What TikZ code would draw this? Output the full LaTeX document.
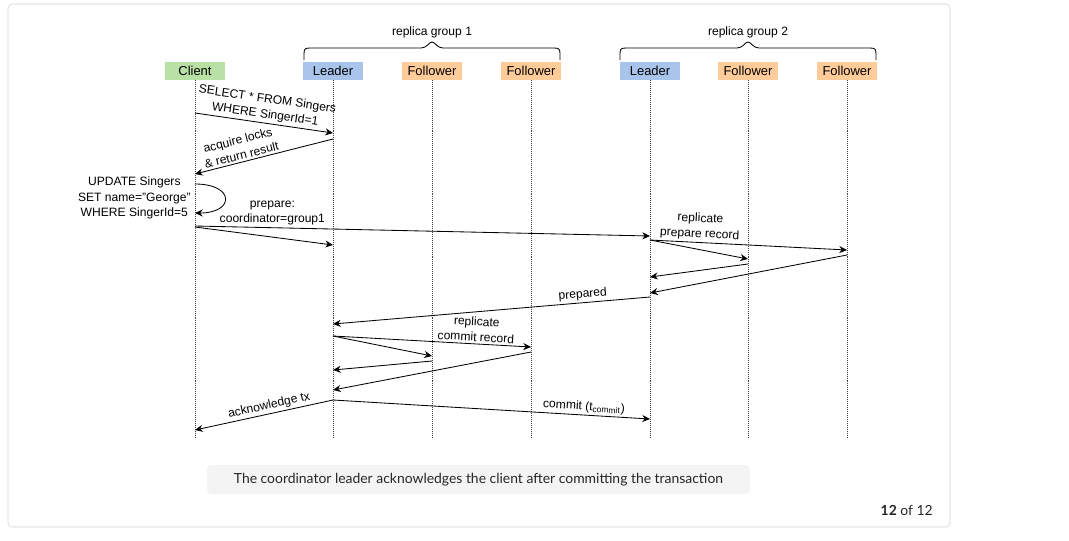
\documentclass[tikz,border=0pt]{standalone}
\usepackage{fontspec}
\setmainfont{Liberation Sans}
\newfontfamily\capfont{Lato}
\usetikzlibrary{arrows.meta}
\definecolor{cgreen}{HTML}{B9E0A5}
\definecolor{cblue}{HTML}{A9C4EB}
\definecolor{corange}{HTML}{FFCC99}
\begin{document}
\begin{tikzpicture}[x=0.025cm,y=-0.025cm,
  hdr/.style={minimum width=1.48cm,minimum height=0.45cm,inner sep=0pt,font=\fontsize{9.2}{10}\selectfont},
  lbl/.style={font=\fontsize{8.6}{11}\selectfont,align=center,inner sep=1.5pt},
  msg/.style={line width=0.6pt,-{Stealth[length=5.5pt,width=5pt]}},
  life/.style={line width=0.5pt,dash pattern=on 0.6pt off 0.8pt,black!75}]
\useasboundingbox (0,0) rectangle (1069,540);
\draw[gray!35,rounded corners=3pt] (8,4) rectangle (950,527);

\node[hdr,fill=cgreen] (C) at (195,71) {Client};
\node[hdr,fill=cblue] (L1) at (333,71) {Leader};
\node[hdr,fill=corange] (F11) at (432,71) {Follower};
\node[hdr,fill=corange] (F12) at (531,71) {Follower};
\node[hdr,fill=cblue] (L2) at (650,71) {Leader};
\node[hdr,fill=corange] (F21) at (748,71) {Follower};
\node[hdr,fill=corange] (F22) at (847,71) {Follower};
\foreach \n in {C,L1,F11,F12,L2,F21,F22}
  \draw[life] (\n.south) -- (\n |- 0,437);

\node[lbl] (G1) at (432,32) {replica group 1};
\node[lbl] (G2) at (748,32) {replica group 2};
\foreach \a/\m/\b in {304/432/560,620/748/876}
  \draw[line width=0.6pt] (\a,60) -- (\a,54) .. controls (\a,49) and (\a+1,48) .. (\a+6,48) -- (\m-11,48) .. controls (\m-5,48) and (\m-3,42) .. (\m,42) .. controls (\m+3,42) and (\m+5,48) .. (\m+11,48) -- (\b-6,48) .. controls (\b-1,48) and (\b,49) .. (\b,54) -- (\b,60);

\draw[msg] (C |- 0,113) -- node[lbl,sloped,above] {SELECT * FROM Singers\\WHERE SingerId=1} (L1 |- 0,133);
\draw[msg] (L1 |- 0,139) -- node[lbl,sloped,above,pos=0.65] {acquire locks\\\& return result} (C |- 0,174);
\draw[msg] (C |- 0,184) .. controls +(40,0) and +(40,0) .. (C |- 0,213);
\node[lbl,anchor=east] (U) at (193,198) {UPDATE Singers\\SET name="George"\\WHERE SingerId=5};
\draw[msg] (C |- 0,226) -- node[lbl,above,pos=0.17] {prepare:\\coordinator=group1} (L2 |- 0,236);
\draw[msg] (C |- 0,227) -- (L1 |- 0,245);
\draw[msg] (L2 |- 0,240) -- (F21 |- 0,259);
\draw[msg] (L2 |- 0,240) -- node[lbl,sloped,above,pos=0.25] {replicate\\prepare record} (F22 |- 0,250);
\draw[msg] (F21 |- 0,264) -- (L2 |- 0,277);
\draw[msg] (F22 |- 0,255) -- (L2 |- 0,293);
\draw[msg] (L2 |- 0,297) -- node[lbl,sloped,above,pos=0.21] {prepared} (L1 |- 0,324);
\draw[msg] (L1 |- 0,336) -- (F11 |- 0,356);
\draw[msg] (L1 |- 0,336) -- node[lbl,sloped,above,pos=0.72] {replicate\\commit record} (F12 |- 0,347);
\draw[msg] (F11 |- 0,361) -- (L1 |- 0,370);
\draw[msg] (F12 |- 0,352) -- (L1 |- 0,390);
\draw[msg] (L1 |- 0,400) -- node[lbl,sloped,above,pos=0.45] {acknowledge tx} (C |- 0,430);
\draw[msg] (L1 |- 0,400) -- node[lbl,sloped,above,pos=0.79] {commit (t\textsubscript{commit})} (L2 |- 0,419);

\node[fill=gray!9,rounded corners=3pt,minimum width=13.575cm,minimum height=0.725cm,text=black!85,font=\capfont\fontsize{9.9}{11}\selectfont] (cap) at (478.5,479.5) {The coordinator leader acknowledges the client after committing the transaction};
\node[anchor=east,inner sep=0pt,text=black!85,font=\capfont\fontsize{9.9}{11}\selectfont] (pg) at (933,510) {\textbf{12} of 12};
\end{tikzpicture}
\end{document}
